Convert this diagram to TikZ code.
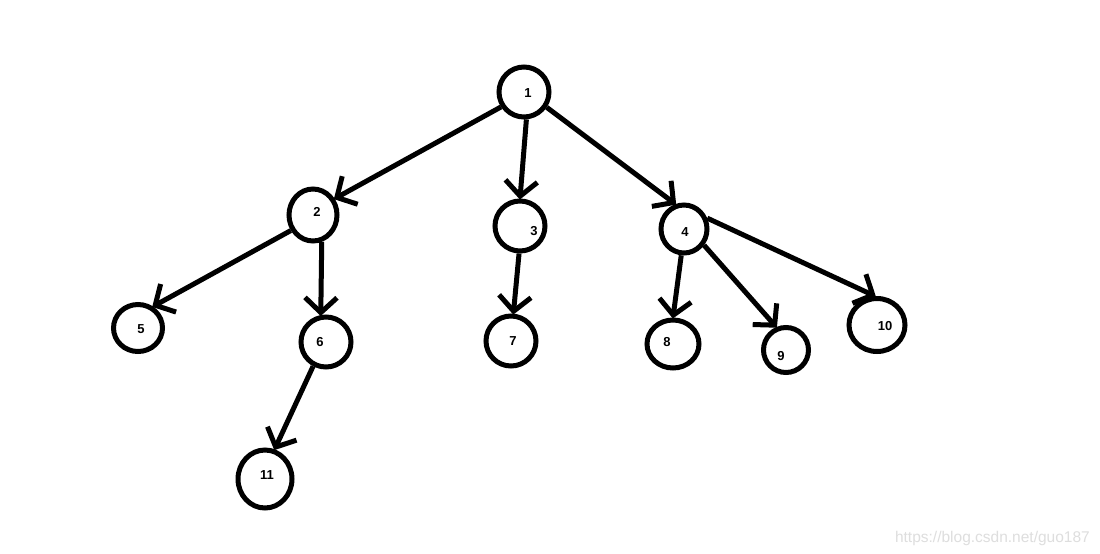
\documentclass[tikz,border=0pt]{standalone}
\usepackage{fontspec}
\setmainfont{Liberation Sans}
\usetikzlibrary{arrows.meta,shapes.geometric}
\tikzset{
  nd/.style={ellipse, draw=black, line width=5pt, inner sep=0pt, minimum width=50pt, minimum height=50pt},
  lbl/.style={font=\fontsize{13}{13}\selectfont\bfseries, inner sep=0pt},
  edge/.style={line width=5pt, -{Straight Barb[length=15pt,width=32pt,line width=5pt]}, shorten >=-1pt},
  wm/.style={font=\fontsize{15.5}{15.5}\selectfont, text=black!13, inner sep=0pt, anchor=base east}
}
\begin{document}
\begin{tikzpicture}[x=1pt,y=-1pt]
\useasboundingbox (0,0) rectangle (1100,554);
\fill[white] (0,0) rectangle (1100,554);
% nodes
\node[nd] (n1) at (524,92) {};
\node[nd, minimum width=48pt, minimum height=52pt] (n2) at (313,215) {};
\node[nd] (n3) at (520,226) {};
\node[nd, minimum width=46pt, minimum height=48pt] (n4) at (684,229) {};
\node[nd, minimum width=49pt, minimum height=47pt] (n5) at (138,328) {};
\node[nd] (n6) at (326,342) {};
\node[nd] (n7) at (511,341) {};
\node[nd, minimum width=52pt, minimum height=48pt] (n8) at (673,344) {};
\node[nd, minimum width=45pt, minimum height=45pt] (n9) at (786,350) {};
\node[nd, minimum width=56pt, minimum height=53pt] (n10) at (877,325) {};
\node[nd, minimum width=54pt, minimum height=58pt] (n11) at (265,479) {};
% labels
\node[lbl] (l1) at (528,93) {1};
\node[lbl] (l2) at (317,212) {2};
\node[lbl] (l3) at (534,231) {3};
\node[lbl] (l4) at (685,232) {4};
\node[lbl] (l5) at (141,329) {5};
\node[lbl] (l6) at (320,342) {6};
\node[lbl] (l7) at (513,341) {7};
\node[lbl] (l8) at (667,342) {8};
\node[lbl] (l9) at (781,356) {9};
\node[lbl] (l10) at (885,326) {10};
\node[lbl] (l11) at (267,475) {11};
% edges
\draw[edge] (n1.213) -- (n2.37);
\draw[edge] (n1.275) -- (n3.90);
\draw[edge] (n1.326) -- (n4.109);
\draw[edge] (n2.215) -- (n5.55);
\draw[edge] (n2.288) -- (n6.101);
\draw[edge] (n6.242) -- (n11.72);
\draw[edge] (n3.268) -- (n7.85);
\draw[edge] (n4.264) -- (n8.90);
\draw[edge] (n4.321) -- (n9.113);
\draw[edge] (n4.25) -- (n10.94);
% watermark
\node[wm] (wm) at (1090,542) {https://blog.csdn.net/guo187};
\end{tikzpicture}
\end{document}
